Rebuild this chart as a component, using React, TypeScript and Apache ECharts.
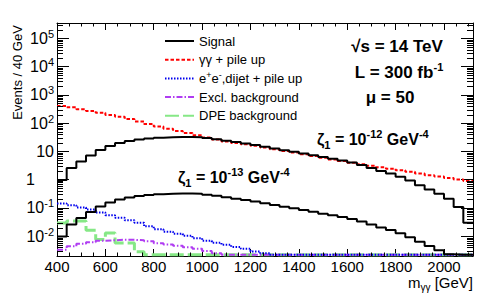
import React, { useEffect, useRef } from "react";
import * as echarts from "echarts";

// ---- data (Events / 40 GeV, bins from 400 to 2120 GeV) ----
const binLow = 400;
const binWidth = 40;
const xMin = 400;
const xMax = 2120;
const yMin = 0.002;
const yMax = 3.5e5;

const signalZeta12 = [
  0.97, 2.58, 4.38, 7.16, 11.2, 15.5, 19.9, 23.4, 26.4, 28.7,
  30.6, 31.9, 32.4, 32.4, 31.6, 29.6, 26.9, 23.9, 21.4, 19.1,
  16.9, 14.7, 12.8, 11.1, 9.7, 8.4, 7.3, 6.3, 5.5, 4.75,
  4.1, 3.3, 2.58, 2.02, 1.65, 1.27, 0.93, 0.64, 0.45, 0.32,
  0.21, 0.109, 0.03,
];
const signalZeta13 = [
  0.0097, 0.0258, 0.0438, 0.0716, 0.112, 0.155, 0.199, 0.234, 0.264, 0.287,
  0.306, 0.319, 0.324, 0.324, 0.316, 0.296, 0.269, 0.239, 0.214, 0.191,
  0.169, 0.147, 0.128, 0.111, 0.097, 0.084, 0.073, 0.063, 0.055, 0.0475,
  0.041, 0.033, 0.0258, 0.0202, 0.0165, 0.0127, 0.0093, 0.0064, 0.0045, 0.0032,
  0.0023, 0.0022, 0.0022,
];
const gammaPileup = [
  407, 366, 311, 271, 236, 195, 170, 141, 115, 93.7,
  76.4, 63.8, 53.3, 44.6, 37.2, 31.1, 26.5, 22.5, 20.0, 17.8,
  15.8, 13.8, 12.0, 10.4, 9.1, 7.9, 6.9, 6.0, 5.2, 4.55,
  3.95, 3.5, 3.1, 2.75, 2.45, 2.15, 1.9, 1.65, 1.45, 1.3,
  1.15, 1.02, 0.9,
];
const eeDijetPileup = [
  0.1445, 0.126, 0.104, 0.0885, 0.0692, 0.0556, 0.0453, 0.0369, 0.0301, 0.0226,
  0.0177, 0.0144, 0.0123, 0.0104, 0.0085, 0.0069, 0.0059, 0.005, 0.0042, 0.0036,
  0.0029, 0.0025, 0.0022, 0.0022, 0.0022, 0.0022, 0.0022, 0.0022, 0.0022, 0.0022,
  0.0022, 0.0022, 0.0022, 0.0022, 0.0022, 0.0022, 0.0022, 0.0022, 0.0022, 0.0022,
  0.0022, 0.0022, 0.0022,
];
const exclBackground = [
  0.0033, 0.0044, 0.0054, 0.0061, 0.0069, 0.0072, 0.0075, 0.0075, 0.0072, 0.0066,
  0.0057, 0.0051, 0.0046, 0.0041, 0.0036, 0.003, 0.0025, 0.0022, 0.0022, 0.0022,
  0.0022, 0.0022, 0.0022, 0.0022, 0.0022, 0.0022, 0.0022, 0.0022, 0.0022, 0.0022,
  0.0022, 0.0022, 0.0022, 0.0022, 0.0022, 0.0022, 0.0022, 0.0022, 0.0022, 0.0022,
  0.0022, 0.0022, 0.0022,
];
const dpeBackground = [
  0.0297, 0.0349, 0.0349, 0.0163, 0.0076, 0.0131, 0.0058, 0.0058, 0.0028, 0.0022,
  0.0022, 0.0022, 0.0022, 0.0022, 0.0022, 0.0022, 0.0022, 0.0022, 0.0022, 0.0022,
  0.0022, 0.0022, 0.0022, 0.0022, 0.0022, 0.0022, 0.0022, 0.0022, 0.0022, 0.0022,
  0.0022, 0.0022, 0.0022, 0.0022, 0.0022, 0.0022, 0.0022, 0.0022, 0.0022, 0.0022,
  0.0022, 0.0022, 0.0022,
];

const legendNames = [
  "Signal",
  "γγ + pile up",
  "e+e-,dijet + pile up",
  "Excl. background",
  "DPE background",
];

const FONT = "'Liberation Sans', Arial, Helvetica, sans-serif";

function toSteps(values: number[]) {
  const pts = values.map((v, i) => [binLow + i * binWidth, v]);
  pts.push([binLow + values.length * binWidth, values[values.length - 1]]);
  return pts;
}

const yMinorTicks: number[] = [];
for (let e = -3; e <= 5; e++) {
  for (let m = 2; m <= 9; m++) {
    const v = m * Math.pow(10, e);
    if (v > yMin * 1.0001 && v < yMax) yMinorTicks.push(v);
  }
}
const xMinorTicks: number[] = [];
for (let x = 450; x < xMax; x += 50) if (x % 200 !== 0) xMinorTicks.push(x);

export default function App() {
  const ref = useRef<HTMLDivElement>(null);
  useEffect(() => {
    document.body.style.margin = "0";
    const chart = echarts.init(ref.current!, undefined, { renderer: "svg" });
    const histLine = (name: string, data: number[], color: string, width: number, type: any, z: number) => ({
      type: "line",
      name,
      data: toSteps(data),
      step: "end",
      symbol: "none",
      showSymbol: false,
      z,
      lineStyle: { color, width, type },
      itemStyle: { color, opacity: 0 },
      emphasis: { disabled: true },
    });
    const axisCommonX = {
      type: "value",
      min: xMin,
      max: xMax,
      interval: 200,
      splitLine: { show: false },
      axisLine: { show: true, onZero: false, lineStyle: { color: "#000", width: 1 } },
      axisTick: { show: true, inside: true, length: 7, lineStyle: { color: "#000", width: 1 } },
    };
    const axisCommonY = {
      type: "log",
      logBase: 10,
      min: yMin,
      max: yMax,
      splitLine: { show: false },
      axisLine: { show: true, onZero: false, lineStyle: { color: "#000", width: 1 } },
      axisTick: { show: true, inside: true, length: 12, lineStyle: { color: "#000", width: 1 } },
    };
    const yLabel = (v: number) => {
      const e = Math.round(Math.log10(v));
      if (Math.abs(Math.log10(v) - e) > 1e-6) return "";
      if (e === 0) return "{one|1}";
      if (e === 1) return "{b|10}";
      return "{b|10}{sup|" + e + "}";
    };
    const option: any = {
      animation: false,
      backgroundColor: "#fff",
      grid: { left: 57, right: 11, top: 23, bottom: 49, containLabel: false },
      legend: {
        data: legendNames,
        orient: "vertical",
        left: 164,
        top: 33,
        padding: 0,
        itemWidth: 29,
        itemHeight: 14,
        itemGap: 2.7,
        selectedMode: false,
        itemStyle: { opacity: 0, color: "transparent", borderWidth: 0 },
        formatter: (name: string) =>
          name.startsWith("e+e-") ? "e{sup|+}e{sup|-},dijet + pile up" : name,
        textStyle: {
          fontFamily: FONT,
          fontSize: 13,
          color: "#000",
          lineHeight: 16,
          rich: {
            sup: { fontFamily: FONT, fontSize: 9, lineHeight: 10, verticalAlign: "top", color: "#000" },
          },
        },
      },
      xAxis: [
        {
          ...axisCommonX,
          position: "bottom",
          axisLabel: {
            show: true,
            showMaxLabel: false,
            fontFamily: FONT,
            fontSize: 15,
            color: "#000",
            margin: 3,
            formatter: (v: number) => String(v),
          },
        },
        { ...axisCommonX, position: "top", axisLabel: { show: false } },
      ],
      yAxis: [
        {
          ...axisCommonY,
          position: "left",
          axisLabel: {
            show: true,
            showMinLabel: false,
            showMaxLabel: false,
            margin: 3,
            color: "#000",
            fontFamily: FONT,
            formatter: yLabel,
            rich: {
              b: { fontFamily: FONT, fontSize: 16, lineHeight: 20, verticalAlign: "middle", color: "#000" },
              one: { fontFamily: FONT, fontSize: 16, lineHeight: 20, verticalAlign: "middle", color: "#000", padding: [0, 19, 0, 0] },
              sup: { fontFamily: FONT, fontSize: 11, lineHeight: 12, verticalAlign: "top", color: "#000" },
            },
          },
        },
        { ...axisCommonY, position: "right", axisLabel: { show: false } },
      ],
      series: [
        histLine("DPE background", dpeBackground, "#86e886", 3, [14, 4], 2),
        histLine("Excl. background", exclBackground, "#b03cf2", 2, [6, 2, 1.5, 2], 3),
        histLine("e+e-,dijet + pile up", eeDijetPileup, "#0000ee", 2, [1.5, 1.5], 4),
        histLine("γγ + pile up", gammaPileup, "#ff0000", 2, [3.5, 2], 5),
        histLine("Signal", signalZeta12, "#000000", 2, "solid", 6),
        histLine("Signal", signalZeta13, "#000000", 2, "solid", 6),
        {
          type: "custom",
          name: "yminor",
          silent: true,
          z: 10,
          data: yMinorTicks.map((v) => [xMin, v]),
          renderItem: (params: any, api: any) => {
            const cs = params.coordSys;
            const p = api.coord([api.value(0), api.value(1)]);
            const y = Math.round(p[1]) + 0.5;
            const st = { stroke: "#000", lineWidth: 1 };
            return {
              type: "group",
              children: [
                { type: "line", shape: { x1: cs.x, y1: y, x2: cs.x + 6, y2: y }, style: st },
                { type: "line", shape: { x1: cs.x + cs.width - 6, y1: y, x2: cs.x + cs.width, y2: y }, style: st },
              ],
            };
          },
        },
        {
          type: "custom",
          name: "xminor",
          silent: true,
          z: 10,
          data: xMinorTicks.map((x) => [x, 1]),
          renderItem: (params: any, api: any) => {
            const cs = params.coordSys;
            const p = api.coord([api.value(0), api.value(1)]);
            const x = Math.round(p[0]) + 0.5;
            const st = { stroke: "#000", lineWidth: 1 };
            return {
              type: "group",
              children: [
                { type: "line", shape: { x1: x, y1: cs.y + cs.height, x2: x, y2: cs.y + cs.height - 3.5 }, style: st },
                { type: "line", shape: { x1: x, y1: cs.y, x2: x, y2: cs.y + 3.5 }, style: st },
              ],
            };
          },
        },
      ],
      graphic: [
        {
          type: "text",
          x: 17,
          y: 72.5,
          rotation: Math.PI / 2,
          style: { text: "Events / 40 GeV", fontFamily: FONT, fontSize: 13, fill: "#000", align: "center", verticalAlign: "middle" },
        },
        {
          type: "text",
          x: 473,
          y: 282,
          style: {
            text: "{b|m}{sub|γγ}{b| [GeV]}",
            fill: "#000",
            align: "right",
            verticalAlign: "middle",
            rich: {
              b: { fontFamily: FONT, fontSize: 15, lineHeight: 20, verticalAlign: "middle", fill: "#000" },
              sub: { fontFamily: FONT, fontSize: 10, lineHeight: 11, verticalAlign: "bottom", fill: "#000" },
            },
          },
        },
        {
          type: "text",
          x: 397,
          y: 46.5,
          style: { text: "√s = 14 TeV", fontFamily: FONT, fontSize: 17, fontWeight: "bold", fill: "#000", align: "center", verticalAlign: "middle" },
        },
        {
          type: "text",
          x: 399,
          y: 72,
          style: {
            text: "{b|L = 300 fb}{sup|-1}",
            fill: "#000",
            align: "center",
            verticalAlign: "middle",
            rich: {
              b: { fontFamily: FONT, fontSize: 17, fontWeight: "bold", lineHeight: 22, verticalAlign: "middle", fill: "#000" },
              sup: { fontFamily: FONT, fontSize: 11, fontWeight: "bold", lineHeight: 12, verticalAlign: "top", fill: "#000" },
            },
          },
        },
        {
          type: "text",
          x: 390,
          y: 97,
          style: { text: "μ = 50", fontFamily: FONT, fontSize: 17, fontWeight: "bold", fill: "#000", align: "center", verticalAlign: "middle" },
        },
        {
          type: "text",
          x: 317,
          y: 139,
          style: {
            text: "{b|ζ}{sub|1}{b| = 10}{sup|-12}{b| GeV}{sup|-4}",
            fill: "#000",
            align: "left",
            verticalAlign: "middle",
            rich: {
              b: { fontFamily: FONT, fontSize: 16, fontWeight: "bold", lineHeight: 22, verticalAlign: "middle", fill: "#000" },
              sup: { fontFamily: FONT, fontSize: 11, fontWeight: "bold", lineHeight: 12, verticalAlign: "top", fill: "#000" },
              sub: { fontFamily: FONT, fontSize: 11, fontWeight: "bold", lineHeight: 12, verticalAlign: "bottom", fill: "#000" },
            },
          },
        },
        {
          type: "text",
          x: 178,
          y: 177,
          style: {
            text: "{b|ζ}{sub|1}{b| = 10}{sup|-13}{b| GeV}{sup|-4}",
            fill: "#000",
            align: "left",
            verticalAlign: "middle",
            rich: {
              b: { fontFamily: FONT, fontSize: 16, fontWeight: "bold", lineHeight: 22, verticalAlign: "middle", fill: "#000" },
              sup: { fontFamily: FONT, fontSize: 11, fontWeight: "bold", lineHeight: 12, verticalAlign: "top", fill: "#000" },
              sub: { fontFamily: FONT, fontSize: 11, fontWeight: "bold", lineHeight: 12, verticalAlign: "bottom", fill: "#000" },
            },
          },
        },
      ],
    };
    chart.setOption(option);
    return () => chart.dispose();
  }, []);
  return (
    <div
      ref={ref}
      style={{ width: 484, height: 305, position: "absolute", left: 0, top: 0, background: "#fff" }}
    />
  );
}
